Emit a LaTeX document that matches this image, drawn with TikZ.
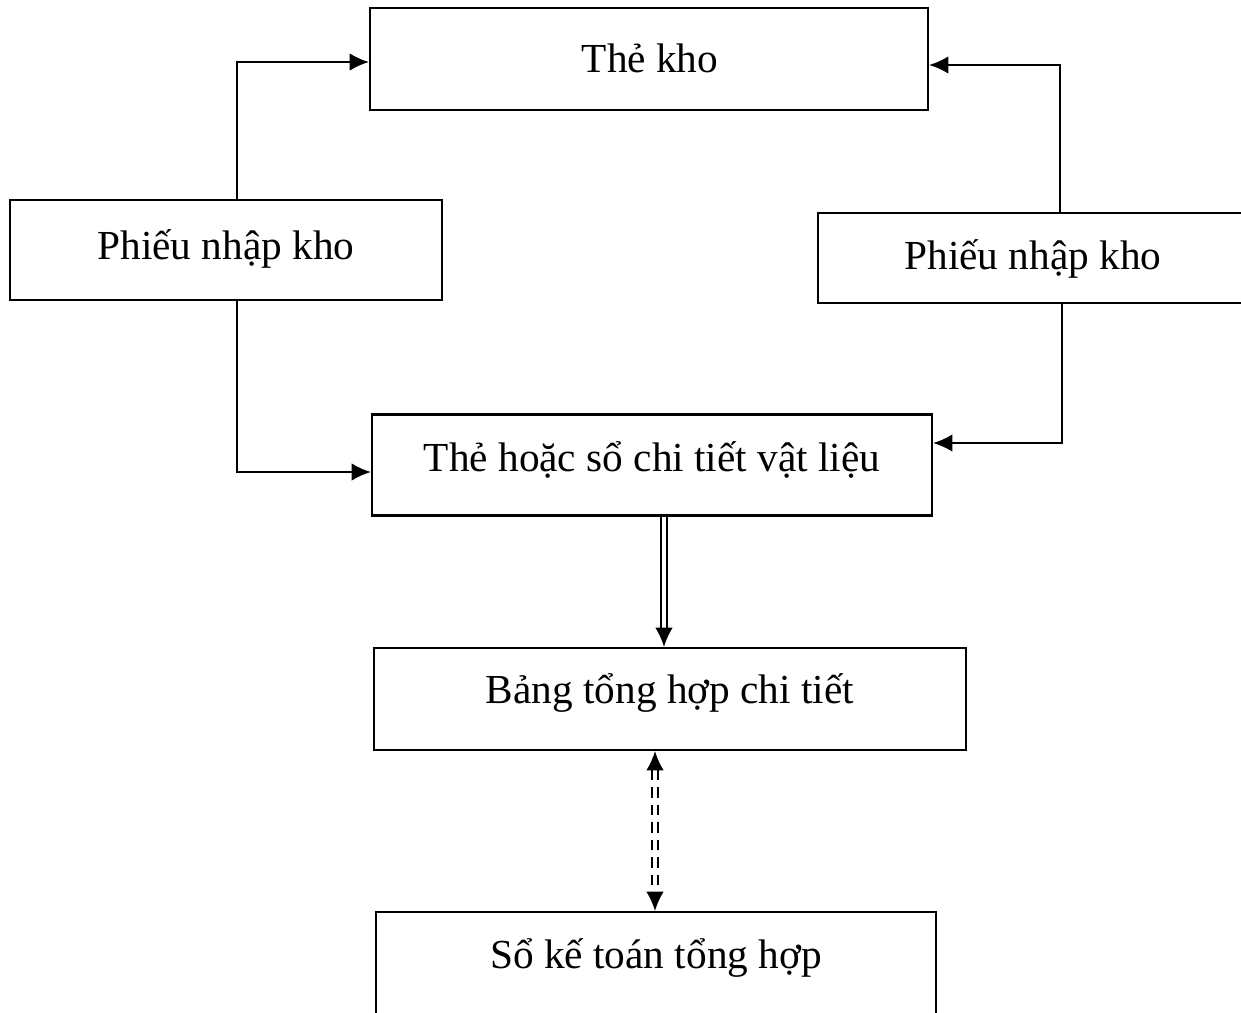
\documentclass[tikz,border=0pt]{standalone}
\usepackage{fontspec}
\setmainfont{Liberation Serif}
\usepackage{tikz}
\usetikzlibrary{arrows.meta,calc}

\begin{document}
\begin{tikzpicture}[x=0.02cm, y=-0.02cm, >={Latex[length=11pt,width=10pt]},
  font=\fontsize{23.5}{28}\selectfont,
  box/.style={draw, line width=1.2pt, inner sep=0pt},
  link/.style={->, line width=1.2pt}]
  \def\u{0.02cm}
  \useasboundingbox (0,0) rectangle (1241,1012);
  \clip (0,0) rectangle (1241,1012);
  % boxes
  \node[box, minimum width=558*\u, minimum height=102*\u] (kho) at (649,59) {};
  \node at (650,58) {Thẻ kho};
  \node[box, minimum width=432*\u, minimum height=100*\u] (pnL) at (226,250) {};
  \node at (226,249) {Phiếu nhập kho};
  \node[box, minimum width=440*\u, minimum height=90*\u] (pnR) at (1038,258) {};
  \node at (1033,259) {Phiếu nhập kho};
  \node[box, minimum width=560*\u, minimum height=101*\u] (ctvl) at (652,465) {};
  \node at (652,460) {Thẻ hoặc sổ chi tiết vật liệu};
  \node[box, minimum width=592*\u, minimum height=102*\u] (thct) at (670,699) {};
  \node at (670,693) {Bảng tổng hợp chi tiết};
  \node[box, minimum width=560*\u, minimum height=160*\u] (sktth) at (656,992) {};
  \node at (656,958) {Sổ kế toán tổng hợp};
  % left side
  \draw[link] ([xshift=11*\u]pnL.north) |- ([yshift=-3*\u]kho.west);
  \draw[link] ([xshift=11*\u]pnL.south) |- ([yshift=-7*\u]ctvl.west);
  % right side
  \draw[link] ([xshift=22*\u]pnR.north) |- ([yshift=-6*\u]kho.east);
  \draw[link] ([xshift=24*\u]pnR.south) |- ([yshift=22*\u]ctvl.east);
  % down the middle
  \coordinate (d1) at ([xshift=12*\u]ctvl.south);
  \coordinate (d2) at ([xshift=-15*\u]thct.south);
  \draw[->, line width=1.1pt, double, double distance=2.2pt]
    (d1) -- (d1 |- thct.north);
  \draw[<->, line width=1.1pt, double, double distance=2.2pt,
    dash pattern=on 6pt off 4pt]
    (d2) -- (d2 |- sktth.north);
\end{tikzpicture}
\end{document}
